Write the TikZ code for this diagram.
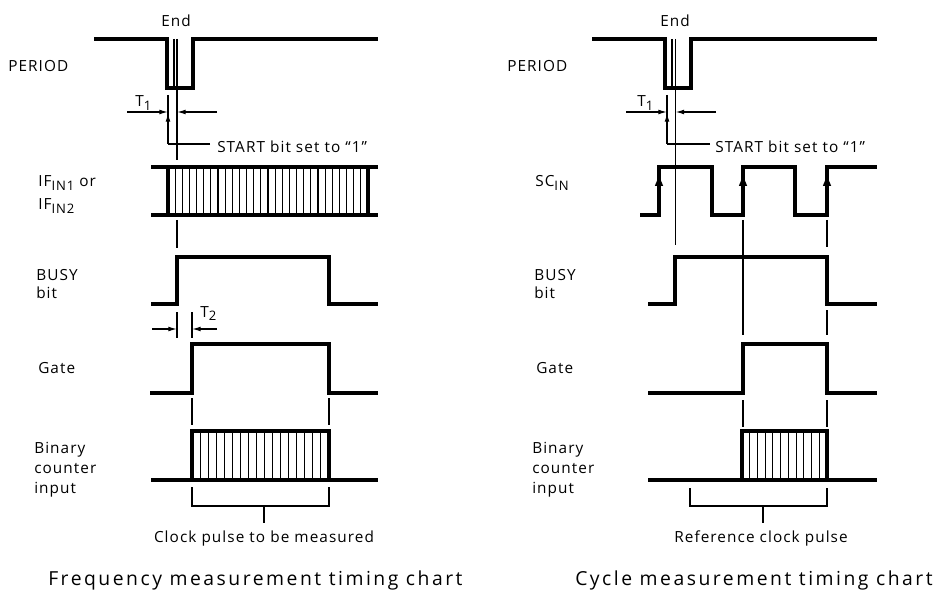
\documentclass[tikz,border=0pt]{standalone}
\usepackage{fontspec}
\setmainfont{Open Sans}
\newfontfamily\lblfont{Open Sans}[LetterSpace=7]
\newfontfamily\ttlfont{Open Sans}[LetterSpace=13]
\usetikzlibrary{arrows.meta}
\newcommand\subx[1]{\raisebox{-0.25em}{\fontsize{9.8}{10}\selectfont #1}}
\newcommand\lblock[1]{\begin{tabular}[t]{@{}l@{}}#1\end{tabular}}
\begin{document}
\begin{tikzpicture}[x=0.75pt,y=-0.75pt,
  sig/.style={line width=2.3pt, line join=miter},
  thin/.style={line width=0.85pt},
  hatch/.style={line width=0.8pt},
  arr/.style={thin,-{Latex[length=6.5pt,width=3.6pt]}},
  uparr/.style={line width=2.3pt,-{Latex[length=10.5pt,width=6.5pt]}},
  lbl/.style={font=\lblfont\fontsize{11.5}{15}\selectfont, inner sep=0pt, anchor=base west},
  lblc/.style={font=\lblfont\fontsize{11.5}{15}\selectfont, inner sep=0pt, anchor=base},
  ttl/.style={font=\ttlfont\fontsize{14.5}{17}\selectfont, inner sep=0pt, anchor=base west}]
\useasboundingbox (0,0) rectangle (948,595);

% ================= LEFT: frequency measurement =================
\node[lbl] (perL) at (8,72) {PERIOD};
\node[lbl] (ifL) at (38,187) {\lblock{IF\subx{IN1} or\\[2pt]IF\subx{IN2}}};
\node[lbl] (busyL) at (36,280) {\lblock{BUSY\\[-1pt]bit}};
\node[lbl] (gateL) at (38,373) {Gate};
\node[lbl] (binL) at (34,453) {\lblock{Binary\\counter\\input}};
\node[lblc] (endL) at (176,27) {End};

% PERIOD
\draw[sig] (94,39) -- (167,39) -- (167,88) -- (193,88) -- (193,39) -- (378,39);
\draw[thin] (174,39) -- (174,88);
\draw[thin] (177,39) -- (177,160);
% T1
\node[lbl] (t1L) at (135,107) {T\subx{1}};
\coordinate (t1La) at (168,95);
\coordinate (t1Lb) at (168,118);
\draw[thin] (t1La) -- (t1Lb);
\coordinate (t1Lin) at (127,112);
\coordinate (t1Lend) at (168,112);
\draw[arr] (t1Lin) -- (t1Lend);
\coordinate (t1Rin) at (217,112);
\coordinate (t1Rend) at (177,112);
\draw[arr] (t1Rin) -- (t1Rend);
\node[lbl] (startL) at (217,153) {START bit set to “1”};
\coordinate (stL) at (210,144);
\coordinate (stLc) at (168,144);
\coordinate (stLt) at (168,113);
\draw[thin] (stL) -- (stLc);
\draw[arr] (stLc) -- (stLt);

% IF signal
\draw[sig] (151,167) -- (378,167);
\draw[sig] (151,215) -- (378,215);
\draw[sig] (168,167) -- (168,215);
\draw[sig] (368,167) -- (368,215);
\foreach \i in {1,...,27} \draw[hatch] ({168+\i*200/28},167) -- ++(0,48);
\draw[thin] (177,220) -- (177,248);

% BUSY
\draw[sig] (151,304) -- (177,304) -- (177,257) -- (329,257) -- (329,304) -- (378,304);
% T2
\draw[thin] (177,312) -- (177,338);
\draw[thin] (192,312) -- (192,338);
\coordinate (t2a) at (152,329);
\coordinate (t2ae) at (177,329);
\coordinate (t2b) at (217,329);
\coordinate (t2be) at (192,329);
\draw[arr] (t2a) -- (t2ae);
\draw[arr] (t2b) -- (t2be);
\node[lbl] (t2L) at (200,317) {T\subx{2}};

% Gate
\draw[sig] (150,393) -- (192,393) -- (192,344) -- (329,344) -- (329,393) -- (378,393);
\draw[thin] (192,398) -- (192,425);
\draw[thin] (329,398) -- (329,425);

% Binary counter input
\draw[sig] (151,480) -- (378,480);
\draw[sig] (192,480) -- (192,431) -- (329,431) -- (329,480);
\foreach \i in {1,...,16} \draw[hatch] ({192+\i*137/17},431) -- ++(0,49);
% bracket
\draw[thin] (192,487) -- (192,506) -- (329,506) -- (329,487);
\draw[thin] (264,506) -- (264,523);
\node[lblc] (clkL) at (264,542) {Clock pulse to be measured};

\node[ttl] (ttlL) at (48,585) {Frequency measurement timing chart};

% ================= RIGHT: cycle measurement =================
\node[lbl] (perR) at (507,72) {PERIOD};
\node[lbl] (scR) at (535,187) {SC\subx{IN}};
\node[lbl] (busyR) at (534,280) {\lblock{BUSY\\[-1pt]bit}};
\node[lbl] (gateR) at (536,373) {Gate};
\node[lbl] (binR) at (532,453) {\lblock{Binary\\counter\\input}};
\node[lblc] (endR) at (675,27) {End};

% PERIOD
\draw[sig] (592,39) -- (665,39) -- (665,88) -- (691,88) -- (691,39) -- (877,39);
\draw[thin] (672,39) -- (672,88);
\draw[thin] (675.5,39) -- (675.5,245);
% T1
\node[lbl] (t1R) at (637,107) {T\subx{1}};
\draw[thin] (667,95) -- (667,118);
\coordinate (r1in) at (626,112);
\coordinate (r1end) at (667,112);
\coordinate (r2in) at (716,112);
\coordinate (r2end) at (675.5,112);
\draw[arr] (r1in) -- (r1end);
\draw[arr] (r2in) -- (r2end);
\node[lbl] (startR) at (715,153) {START bit set to “1”};
\coordinate (stR) at (710,144);
\coordinate (stRc) at (667,144);
\coordinate (stRt) at (667,113);
\draw[thin] (stR) -- (stRc);
\draw[arr] (stRc) -- (stRt);

% SC_IN
\draw[sig] (640,215) -- (659,215) -- (659,167) -- (712,167) -- (712,215) -- (743,215) -- (743,167) -- (795,167) -- (795,215) -- (827,215) -- (827,167) -- (877,167);
\foreach \x in {659,743,827} \draw[uparr] (\x,203) -- (\x,172);
\draw[thin] (743,220) -- (743,335);
\draw[thin] (827,220) -- (827,247);
\draw[thin] (827,310) -- (827,335);

% BUSY
\draw[sig] (648,304) -- (675,304) -- (675,257) -- (827,257) -- (827,304) -- (877,304);
% Gate
\draw[sig] (648,393) -- (743,393) -- (743,344) -- (827,344) -- (827,393) -- (877,393);
\draw[thin] (743,400) -- (743,427);
\draw[thin] (827,400) -- (827,427);

% Binary counter input
\draw[sig] (648,480) -- (877,480);
\draw[sig] (742,480) -- (742,431) -- (827,431) -- (827,480);
\foreach \i in {1,...,10} \draw[hatch] ({742+\i*85/11},431) -- ++(0,49);
% bracket
\draw[thin] (690,488) -- (690,506) -- (827,506) -- (827,488);
\draw[thin] (763,506) -- (763,523);
\node[lblc] (clkR) at (761,542) {Reference clock pulse};

\node[ttl] (ttlR) at (575,585) {Cycle measurement timing chart};
\end{tikzpicture}
\end{document}
